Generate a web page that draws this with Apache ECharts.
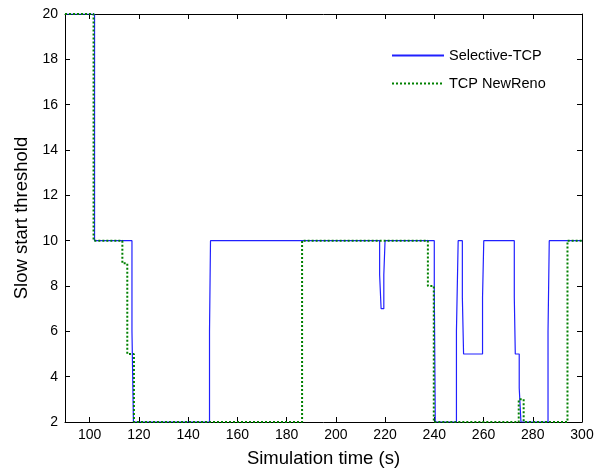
<!DOCTYPE html>
<html><head><meta charset="utf-8">
<script src="https://cdn.jsdelivr.net/npm/echarts@6/dist/echarts.min.js"></script>
<style>html,body{margin:0;padding:0;background:#fff}#c{width:598px;height:469px}</style>
</head><body><div id="c"></div>
<script>
var selectiveX = [90,102,102,117.2,117.2,117.8,117.8,148.7,148.7,149.1,149.1,217.8,217.8,218.4,218.4,219.5,219.5,220,220,240,240,240.4,240.4,249,249,249.7,249.7,251.4,251.4,251.9,251.9,259.6,259.6,260.1,260.1,272.5,272.5,272.9,272.9,274.5,274.5,275.2,275.2,286.2,286.2,286.7,286.7,300];
var selectiveY = [20,20,10,10,6,6,2,2,6,6,10,10,8.5,8.5,7,7,8.5,8.5,10,10,7.8,7.8,2,2,6,6,10,10,7.5,7.5,5,5,7.5,7.5,10,10,7.5,7.5,5,5,3.5,3.5,2,2,6,6,10,10];
var newrenoX = [90,101.6,101.6,113.3,113.3,115.3,115.3,118,118,186.3,186.3,237.4,237.4,239.8,239.8,274.3,274.3,276.3,276.3,294.1,294.1,300];
var newrenoY = [20,20,10,10,9,9,5,5,2,2,10,10,8,8,2,2,3,3,2,2,10,10];
var xTicks = [100,120,140,160,180,200,220,240,260,280,300];
var yTicks = [2,4,6,8,10,12,14,16,18,20];

function pairs(xs, ys){ return xs.map(function(x,i){ return [x, ys[i]]; }); }

var font = 'Liberation Sans, Arial, sans-serif';
var chart = echarts.init(document.getElementById('c'));
chart.setOption({
  animation: false,
  backgroundColor: '#fff',
  grid: {left: 65, right: 16, top: 14, bottom: 47, containLabel: false, outerBoundsMode: 'none'},
  legend: {
    orient: 'vertical', left: 391, top: 48, padding: 0, itemGap: 13, itemWidth: 52, itemHeight: 14,
    itemStyle: {opacity: 0},
    textStyle: {fontFamily: font, fontSize: 14.5, color: '#000'},
    data: ['Selective-TCP', 'TCP NewReno']
  },
  xAxis: [{
    type: 'value', min: 90, max: 300, position: 'bottom',
    name: 'Simulation time (s)', nameLocation: 'middle', nameGap: 27,
    nameTextStyle: {fontFamily: font, fontSize: 18.5, color: '#000'},
    axisLine: {lineStyle: {color: '#000', width: 1}},
    axisTick: {inside: true, length: 5, customValues: xTicks, lineStyle: {color: '#000'}},
    axisLabel: {customValues: xTicks, fontFamily: font, fontSize: 14, color: '#000', margin: 6},
    splitLine: {show: false}
  }, {
    type: 'value', min: 90, max: 300, position: 'top',
    axisLine: {lineStyle: {color: '#000', width: 1}},
    axisTick: {inside: true, length: 5, customValues: xTicks, lineStyle: {color: '#000'}},
    axisLabel: {show: false}, splitLine: {show: false}
  }],
  yAxis: [{
    type: 'value', min: 2, max: 20, interval: 2, position: 'left',
    name: 'Slow start threshold', nameLocation: 'middle', nameGap: 28,
    nameTextStyle: {fontFamily: font, fontSize: 18.5, color: '#000'},
    axisLine: {show: true, lineStyle: {color: '#000', width: 1}},
    axisTick: {show: true, inside: true, length: 5, lineStyle: {color: '#000'}},
    axisLabel: {fontFamily: font, fontSize: 14, color: '#000', margin: 7},
    splitLine: {show: false}
  }, {
    type: 'value', min: 2, max: 20, interval: 2, position: 'right',
    axisLine: {show: true, lineStyle: {color: '#000', width: 1}},
    axisTick: {show: true, inside: true, length: 5, lineStyle: {color: '#000'}},
    axisLabel: {show: false}, splitLine: {show: false}
  }],
  series: [{
    name: 'Selective-TCP', type: 'line', symbol: 'none', xAxisIndex: 0, yAxisIndex: 0,
    data: pairs(selectiveX, selectiveY),
    lineStyle: {color: '#2020ff', width: 1.2}, itemStyle: {color: '#2020ff'}
  }, {
    name: 'TCP NewReno', type: 'line', symbol: 'none', xAxisIndex: 0, yAxisIndex: 0,
    data: pairs(newrenoX, newrenoY),
    lineStyle: {color: '#008000', width: 2, type: [2, 2]}, itemStyle: {color: '#008000'}
  }]
});
</script></body></html>
